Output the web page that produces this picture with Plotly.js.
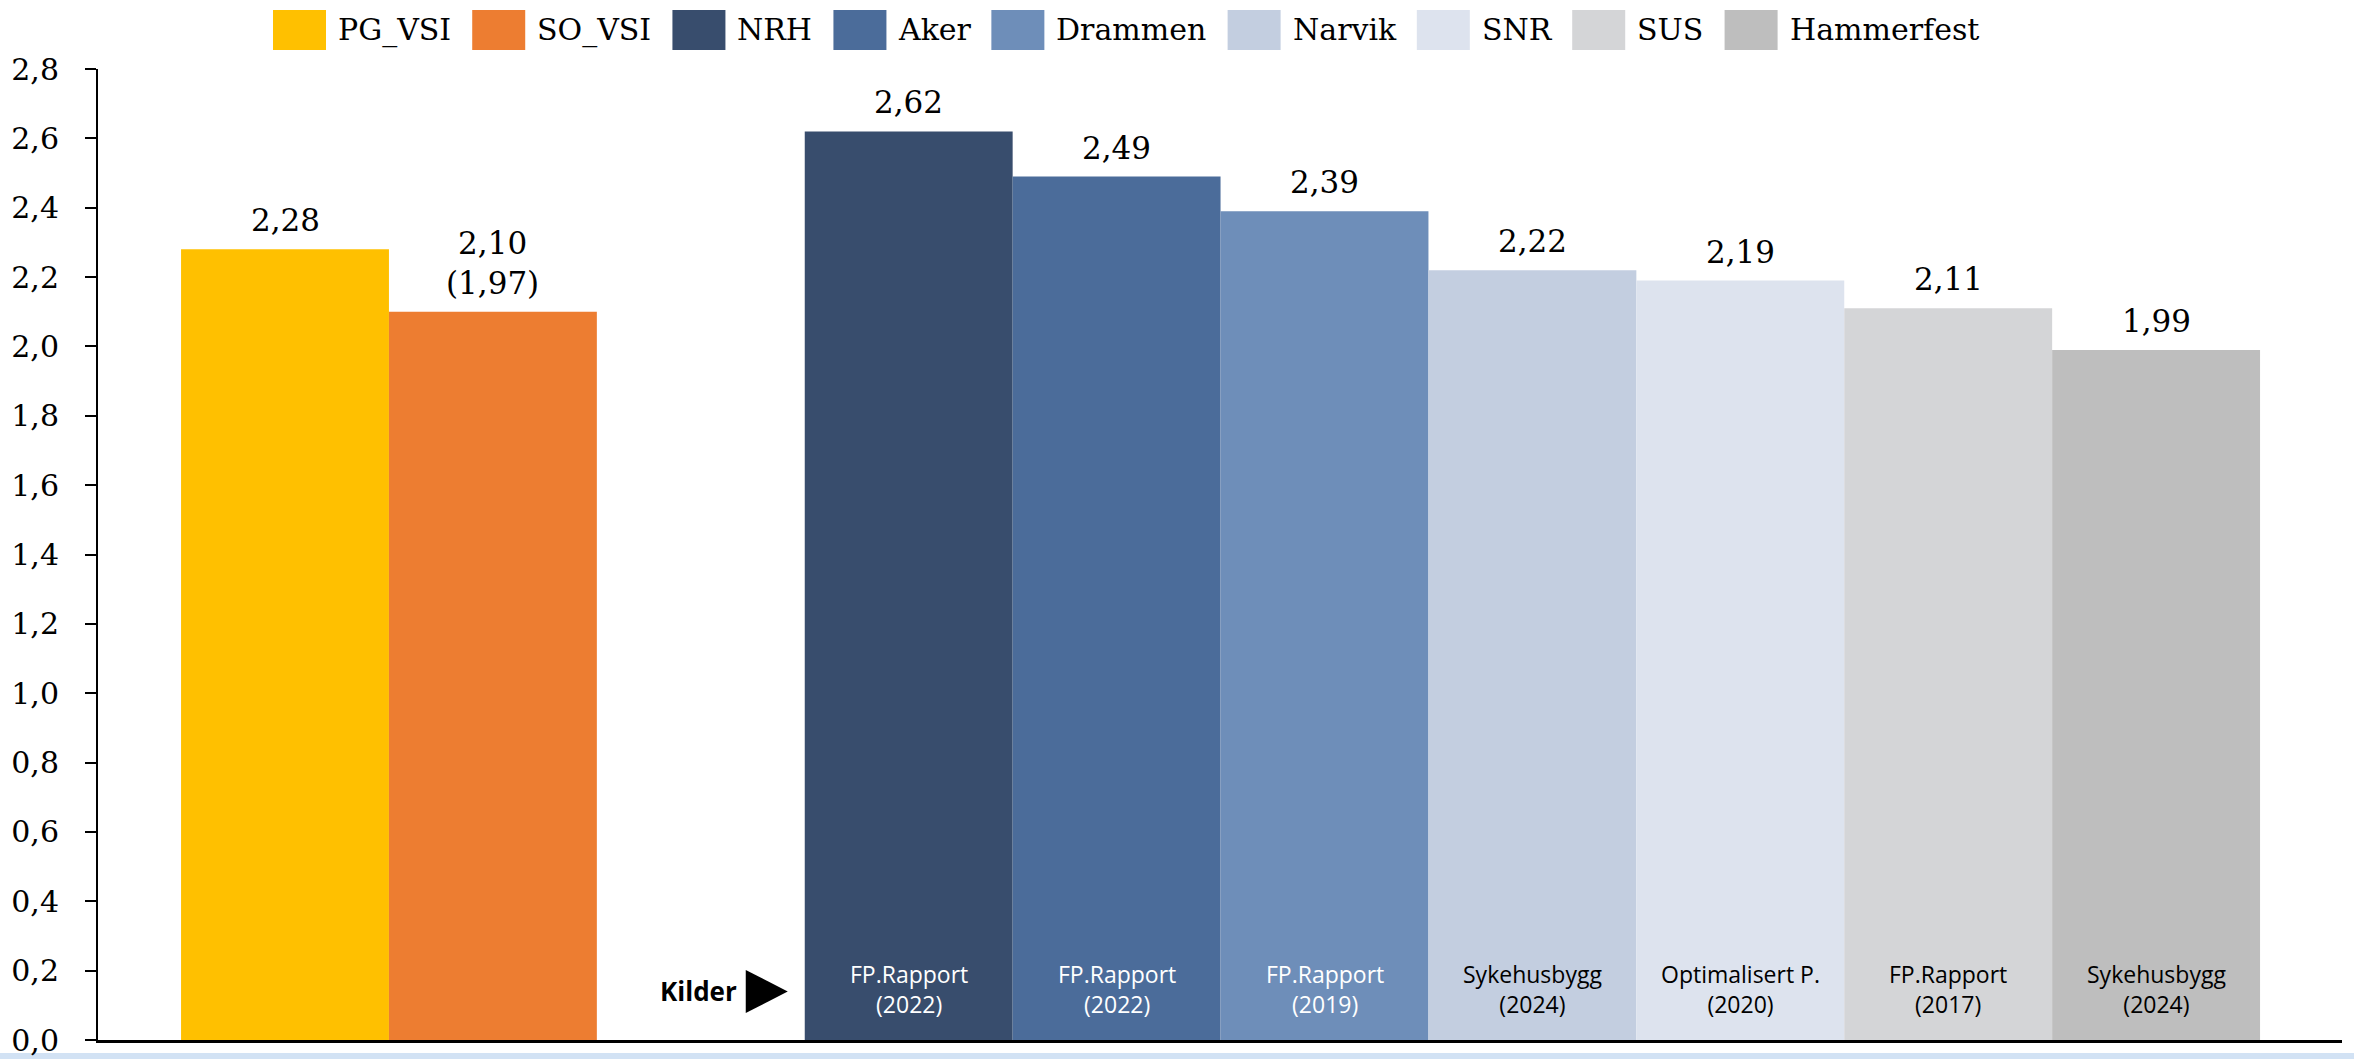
<!DOCTYPE html>
<html>
<head>
<meta charset="utf-8">
<script src="https://cdn.plot.ly/plotly-3.0.1.min.js"></script>
<style>
  html, body { margin: 0; padding: 0; background: #ffffff; }
  #chart { width: 2354px; height: 1059px; }
</style>
</head>
<body>
<div id="chart"></div>
<script>
// ---- data ----
const series = ["PG_VSI", "SO_VSI", "NRH", "Aker", "Drammen", "Narvik", "SNR", "SUS", "Hammerfest"];
const values = [2.28, 2.10, 2.62, 2.49, 2.39, 2.22, 2.19, 2.11, 1.99];
const altValues = [null, 1.97, null, null, null, null, null, null, null];
const sources = ["", "", "FP.Rapport<br>(2022)", "FP.Rapport<br>(2022)", "FP.Rapport<br>(2019)",
                 "Sykehusbygg<br>(2024)", "Optimalisert P.<br>(2020)", "FP.Rapport<br>(2017)", "Sykehusbygg<br>(2024)"];
const colors = ["#FFC000", "#ED7D31", "#384D6D", "#4B6C9A", "#6E8EB9", "#C3CEE0", "#DDE3EE", "#D4D5D7", "#BEBEBE"];
const sourceTextColors = ["#000", "#000", "#FFFFFF", "#FFFFFF", "#FFFFFF", "#000000", "#000000", "#000000", "#000000"];
// order of the bars along the axis; null marks the empty gap slot
const order = ["PG_VSI", "SO_VSI", null, "NRH", "Aker", "Drammen", "Narvik", "SNR", "SUS", "Hammerfest"];
const sourcesLabel = "Kilder";

// ---- geometry (pixels) ----
const W = 2354, H = 1059;
const M = { l: 98, r: 12, t: 69, b: 19 };
const plotW = W - M.l - M.r, plotH = H - M.t - M.b;
const serif = "DejaVu Serif, Liberation Serif, serif";
const sans = "Open Sans, Noto Sans, sans-serif";

const fmt = v => v.toFixed(2).replace(".", ",");

const traces = series.map((name, i) => ({
  type: "bar",
  name: name,
  x: [order.indexOf(name)],
  y: [values[i]],
  width: 1,
  marker: { color: colors[i], line: { width: 0 } },
  cliponaxis: false,
  hoverinfo: "skip",
  showlegend: false
}));

// x range so that the plot edges fall where the reference's do
const slotPx = 207.9;
const firstCenterPx = 285 - M.l;
const xr = [(-firstCenterPx) / slotPx, (plotW - firstCenterPx) / slotPx];

const annotations = [];
const shapes = [];

// value labels above each bar
series.forEach((name, i) => {
  const label = fmt(values[i]) + (altValues[i] != null ? "<br>(" + fmt(altValues[i]) + ")" : "");
  annotations.push({
    x: order.indexOf(name), y: values[i], xref: "x", yref: "y",
    text: label, showarrow: false,
    xanchor: "center", yanchor: "bottom", yshift: 9,
    font: { family: serif, size: 31, color: "#000000" }
  });
});

// source labels at the bottom of each bar
series.forEach((name, i) => {
  if (!sources[i]) return;
  annotations.push({
    x: order.indexOf(name), y: 0, xref: "x", yref: "y",
    text: sources[i], showarrow: false,
    xanchor: "center", yanchor: "bottom", yshift: 18,
    font: { family: sans, size: 23, color: sourceTextColors[i] }
  });
});

// "Kilder ▶"
const firstSourceIdx = order.indexOf(series[sources.findIndex(s => s)]);
annotations.push({
  x: firstSourceIdx - 0.5, y: 0, xref: "x", yref: "y",
  text: "<b>" + sourcesLabel + "</b>", showarrow: false,
  xanchor: "right", yanchor: "middle", xshift: -66, yshift: 49,
  font: { family: sans, size: 26, color: "#000000" }
});
shapes.push({
  type: "path", xref: "x", yref: "y",
  xsizemode: "pixel", ysizemode: "pixel",
  xanchor: firstSourceIdx - 0.5, yanchor: 0,
  path: "M-59,70 L-59,27 L-17,48.5 Z",
  fillcolor: "#000000", line: { width: 0 }
});

// custom legend (large swatches like the reference)
const ctx = document.createElement("canvas").getContext("2d");
ctx.font = "30px 'DejaVu Serif'";
const px2paperX = px => (px - M.l) / plotW;
const px2paperY = py => (H - M.b - py) / plotH;
let lx = 273;
const swW = 53, swTop = 10, swBot = 50, textGap = 11, itemGap = 22;
series.forEach((name, i) => {
  shapes.push({
    type: "rect", xref: "paper", yref: "paper",
    x0: px2paperX(lx), x1: px2paperX(lx + swW),
    y0: px2paperY(swBot), y1: px2paperY(swTop),
    fillcolor: colors[i], line: { width: 0 }
  });
  const tx = lx + swW + textGap;
  annotations.push({
    x: px2paperX(tx), y: px2paperY((swTop + swBot) / 2), xref: "paper", yref: "paper",
    text: name, showarrow: false, xanchor: "left", yanchor: "middle",
    font: { family: serif, size: 30, color: "#000000" }, borderpad: 0
  });
  lx = tx + ctx.measureText(name).width + itemGap;
});

// faint blue strip at the very bottom of the picture
shapes.push({
  type: "rect", xref: "paper", yref: "paper",
  x0: px2paperX(0), x1: px2paperX(W),
  y0: px2paperY(H), y1: px2paperY(1053),
  fillcolor: "#D2E2F4", line: { width: 0 }, layer: "below"
});

const layout = {
  width: W, height: H,
  margin: M,
  paper_bgcolor: "#ffffff", plot_bgcolor: "#ffffff",
  separators: ", ",
  barmode: "overlay",
  showlegend: false,
  xaxis: {
    range: xr, showgrid: false, zeroline: false,
    showticklabels: false, ticks: "",
    showline: true, linecolor: "#000000", linewidth: 2.5
  },
  yaxis: {
    range: [0, 2.8], tick0: 0, dtick: 0.2, tickformat: ".1f",
    showgrid: false, zeroline: false,
    ticks: "outside", ticklen: 11, tickwidth: 2, tickcolor: "#000000",
    showline: true, linecolor: "#000000", linewidth: 2,
    ticklabelstandoff: 20,
    tickfont: { family: serif, size: 30, color: "#000000" }
  },
  annotations: annotations,
  shapes: shapes
};

Plotly.newPlot("chart", traces, layout, { displayModeBar: false, staticPlot: true });
</script>
</body>
</html>
